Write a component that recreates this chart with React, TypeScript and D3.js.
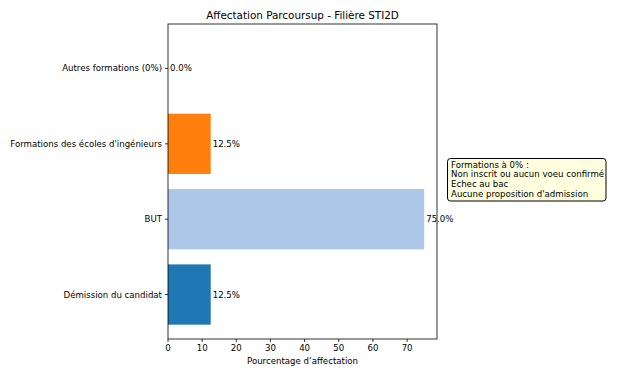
import React from "react";
import * as d3 from "d3";

const categories = ["Démission du candidat", "BUT", "Formations des écoles d'ingénieurs", "Autres formations (0%)"];
const values = [12.5, 75.0, 12.5, 0.0];
const colors = ["#1f77b4", "#aec7e8", "#ff7f0e", "#ffbb78"];
const xTicks = [0, 10, 20, 30, 40, 50, 60, 70];
const noteLines = ["Formations à 0% :", "Non inscrit ou aucun voeu confirmé", "Echec au bac", "Aucune proposition d'admission"];

const W = 625, H = 375;
const m = { left: 168, right: 437, top: 24, bottom: 339 };
const FONT = "DejaVu Sans, sans-serif";
const FS = 8.6;

export default function App() {
  const x = d3.scaleLinear().domain([0, 78.75]).range([m.left, m.right]);
  const y = d3.scaleLinear().domain([-0.59, 3.59]).range([m.bottom, m.top]);
  const bh = y(0) - y(0.8);
  return (
    <svg width={W} height={H} style={{ position: "absolute", left: 0, top: 0 }} fontFamily={FONT}>
      <rect width={W} height={H} fill="#fff" />
      <text x={(m.left + m.right) / 2} y={m.top - 5} textAnchor="middle" fontSize={10.4}>Affectation Parcoursup - Filière STI2D</text>
      {values.map((v, i) => (
        <g key={i}>
          <rect x={x(0)} y={y(i + 0.4)} width={x(v) - x(0)} height={bh} fill={colors[i]} />
          <text x={x(v) + 2} y={y(i)} dy="0.35em" fontSize={FS}>{v.toFixed(1)}%</text>
        </g>
      ))}
      <rect x={m.left} y={m.top} width={m.right - m.left} height={m.bottom - m.top} fill="none" stroke="#000" strokeWidth={0.8} />
      {categories.map((c, i) => (
        <g key={c}>
          <line x1={m.left - 3} x2={m.left} y1={y(i)} y2={y(i)} stroke="#000" strokeWidth={0.8} />
          <text x={m.left - 6} y={y(i)} dy="0.35em" textAnchor="end" fontSize={FS}>{c}</text>
        </g>
      ))}
      {xTicks.map(t => (
        <g key={t}>
          <line x1={x(t)} x2={x(t)} y1={m.bottom} y2={m.bottom + 3} stroke="#000" strokeWidth={0.8} />
          <text x={x(t)} y={m.bottom + 5} dy="0.8em" textAnchor="middle" fontSize={FS}>{t}</text>
        </g>
      ))}
      <text x={(m.left + m.right) / 2} y={m.bottom + 25} textAnchor="middle" fontSize={FS}>Pourcentage d’affectation</text>
      <rect x={447.5} y={158.5} width={158.5} height={42.5} rx={3} fill="#ffffe0" stroke="#000" strokeWidth={1} />
      {noteLines.map((l, i) => (
        <text key={i} x={451} y={167.5 + i * 9.85} fontSize={FS}>{l}</text>
      ))}
    </svg>
  );
}
